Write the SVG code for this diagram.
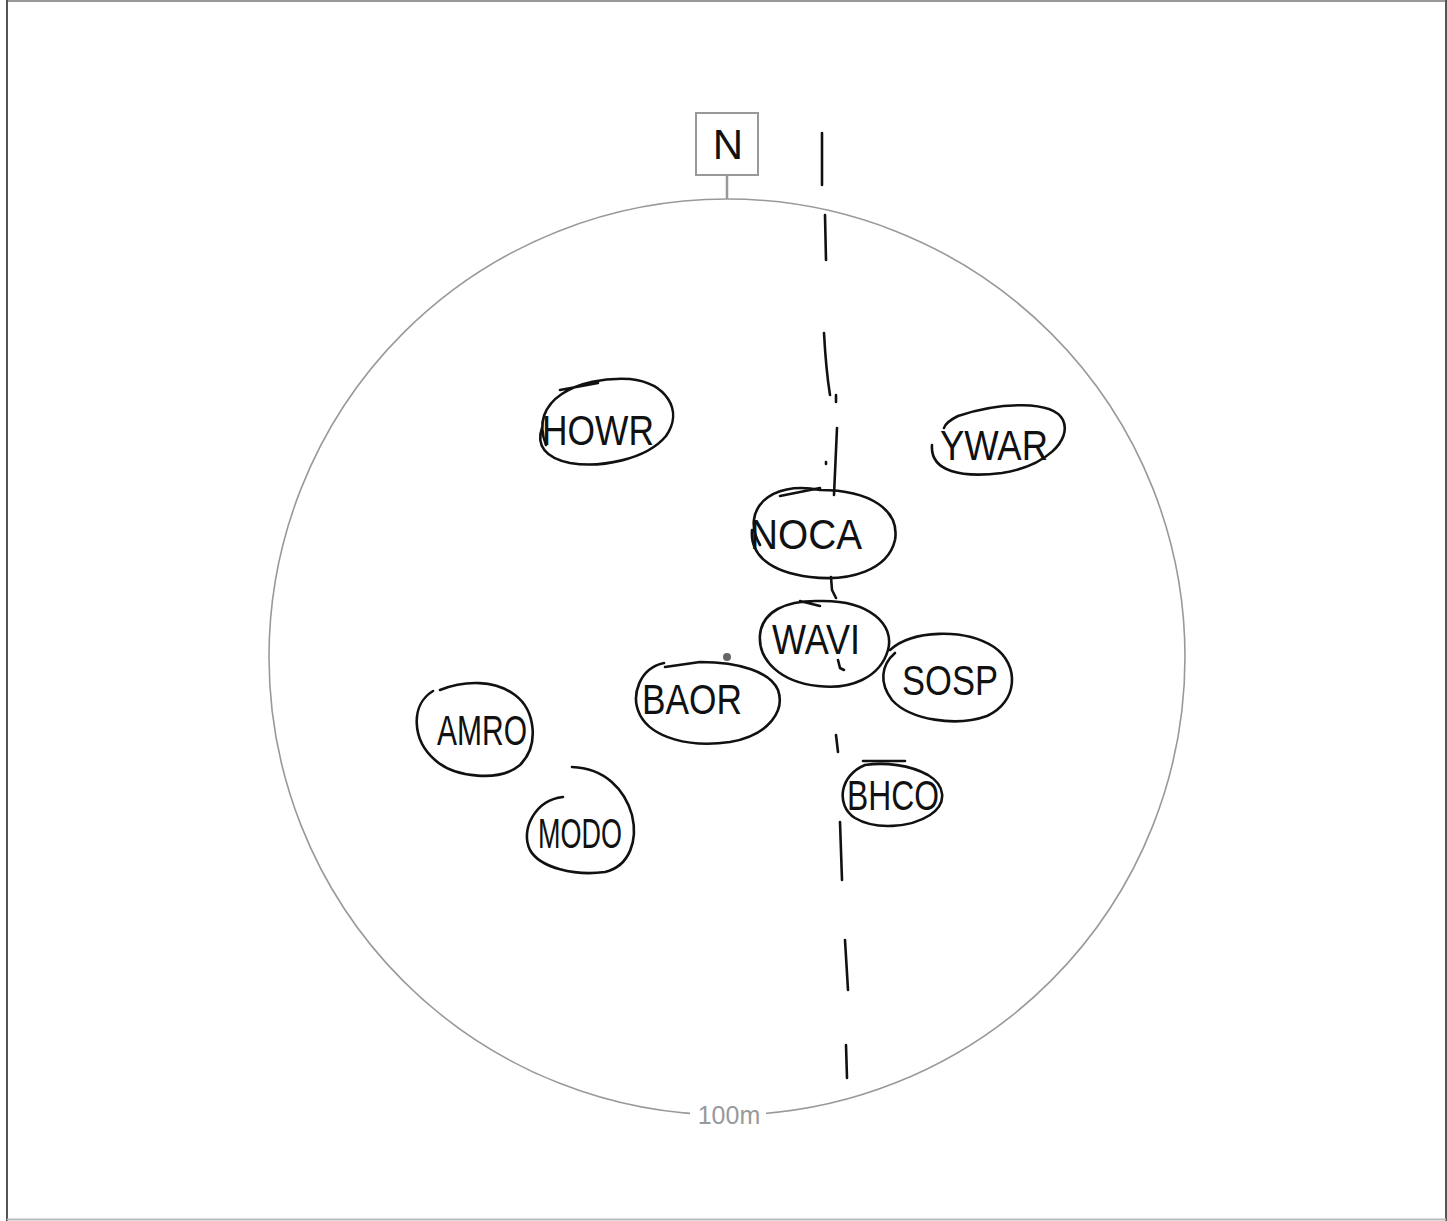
<svg xmlns="http://www.w3.org/2000/svg" width="1447" height="1221" viewBox="0 0 1447 1221">
<style>
.ink{fill:none;stroke:#111;stroke-width:2.6;stroke-linecap:round;stroke-linejoin:round}
.lbl{font-family:"Liberation Sans","DejaVu Sans",sans-serif;fill:#111;font-size:42px;text-anchor:middle}
.frame{fill:none;stroke:#999;stroke-width:1.6}
</style>
<rect x="0" y="0" width="1447" height="1221" fill="#fff"/>
<g id="border">
<line x1="7" y1="1" x2="1446" y2="1" stroke="#999" stroke-width="2"/>
<line x1="7" y1="0" x2="7" y2="1221" stroke="#555" stroke-width="2"/>
<line x1="1446" y1="0" x2="1446" y2="1221" stroke="#555" stroke-width="2"/>
<line x1="7" y1="1219.5" x2="1446" y2="1219.5" stroke="#bbb" stroke-width="2"/>
</g>
<g id="range">
<circle class="frame" cx="727" cy="657" r="458"/>
<rect x="690" y="1102" width="76" height="26" fill="#fff"/>
<text x="729" y="1124" font-family="Liberation Sans,Arial,sans-serif" font-size="25" fill="#999" text-anchor="middle">100m</text>
<circle cx="727" cy="657" r="4" fill="#666"/>
</g>
<g id="north">
<line x1="727" y1="176" x2="727" y2="199" stroke="#999" stroke-width="2.5"/>
<rect x="696" y="113" width="62" height="62" fill="#fff" stroke="#999" stroke-width="2"/>
<text class="lbl" x="728" y="159" font-size="40">N</text>
</g>
<g id="connectors">
<path class="ink" d="M822 133 L822 185 M825 215 L826 260 M824 333 Q826 370 830 395 M836 395 L836 402 M826 462 L826 464 M837 428 L834 495 M831 577 L832 590 L836 598 M838 660 L840 668 L844 670 M836 735 L838 752 M840 822 L842 880 M845 940 L848 990 M846 1045 L847 1078"/>
</g>
<g id="HOWR">
<path class="ink" d="M546 445 C528 400 578 376 630 379 C666 383 684 410 666 436 C646 460 600 468 570 463 C545 458 536 445 542 428 M560 390 L598 383"/>
<text class="lbl" x="598" y="445" textLength="112" lengthAdjust="spacingAndGlyphs">HOWR</text>
</g>
<g id="YWAR">
<path class="ink" d="M932 445 C930 472 962 478 1002 473 C1046 466 1072 440 1063 420 C1053 400 1000 402 958 416 C950 420 945 424 944 428"/>
<text class="lbl" x="994" y="460" textLength="108" lengthAdjust="spacingAndGlyphs">YWAR</text>
</g>
<g id="NOCA">
<path class="ink" d="M760 545 C740 510 770 480 820 490 C870 490 900 510 895 540 C888 570 850 582 810 577 C770 572 750 555 752 530 M780 496 L820 488"/>
<text class="lbl" x="806" y="549" textLength="112" lengthAdjust="spacingAndGlyphs">NOCA</text>
</g>
<g id="WAVI">
<path class="ink" d="M820 601 C870 600 895 625 888 650 C880 678 850 690 818 686 C780 682 758 660 760 635 C762 612 785 600 820 601 M800 601 L820 606"/>
<text class="lbl" x="816" y="654" textLength="88" lengthAdjust="spacingAndGlyphs">WAVI</text>
</g>
<g id="SOSP">
<path class="ink" d="M890 650 C912 630 964 628 994 647 C1020 665 1018 702 987 716 C956 727 910 720 892 700 C879 683 881 665 895 653"/>
<text class="lbl" x="950" y="695" textLength="96" lengthAdjust="spacingAndGlyphs">SOSP</text>
</g>
<g id="BAOR">
<path class="ink" d="M664 663 C640 668 630 695 640 715 C652 738 690 748 730 742 C770 735 785 710 778 690 C770 672 740 662 700 662 L665 667"/>
<text class="lbl" x="692" y="714" textLength="100" lengthAdjust="spacingAndGlyphs">BAOR</text>
</g>
<g id="AMRO">
<path class="ink" d="M433 691 C410 705 412 740 435 760 C455 778 500 782 520 765 C540 745 535 710 515 695 C495 680 465 680 440 690"/>
<text class="lbl" x="482" y="745" textLength="90" lengthAdjust="spacingAndGlyphs" font-size="38">AMRO</text>
</g>
<g id="MODO">
<path class="ink" d="M563 797 C535 800 520 830 530 850 C540 868 575 876 605 872 C630 866 638 840 632 815 C625 790 605 768 572 767"/>
<text class="lbl" x="580" y="848" textLength="84" lengthAdjust="spacingAndGlyphs" font-size="36">MODO</text>
</g>
<g id="BHCO">
<path class="ink" d="M865 765 C840 775 835 805 855 818 C875 830 910 828 930 815 C948 803 945 785 928 775 C910 765 885 762 865 765 M863 761 L905 761"/>
<text class="lbl" x="893" y="810" textLength="92" lengthAdjust="spacingAndGlyphs" font-size="40">BHCO</text>
</g>
</svg>
